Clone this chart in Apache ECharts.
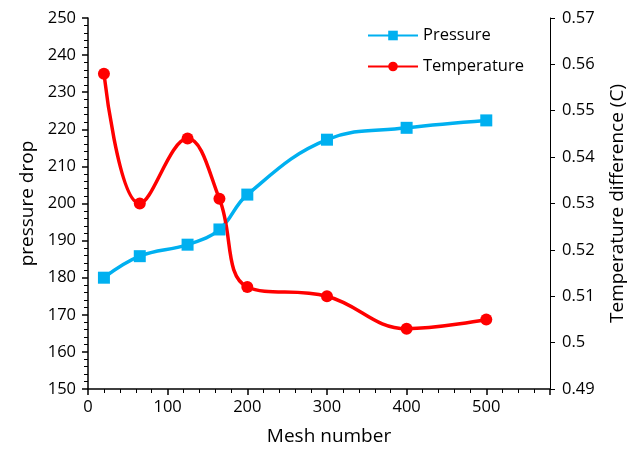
<!DOCTYPE html>
<html>
<head>
<meta charset="utf-8">
<script src="https://cdn.jsdelivr.net/npm/echarts@6/dist/echarts.min.js"></script>
<style>
  html, body { margin: 0; padding: 0; background: #fff; }
  #main { width: 635px; height: 449px; }
</style>
</head>
<body>
<div id="main"></div>
<script>
(function () {
    'use strict';

    // mesh sizes and measured values
    var meshNumber = [20, 65, 125, 165, 200, 300, 400, 500];
    var pressureDrop = [180, 185.8, 188.9, 193, 202.4, 217.2, 220.4, 222.4];
    var tempDiff = [0.558, 0.530, 0.544, 0.531, 0.512, 0.510, 0.503, 0.505];

    var FONT = 'Open Sans';
    var BLUE = '#00b0f0';
    var RED = '#ff0000';

    function pairs(xs, ys) {
        return xs.map(function (x, i) { return [x, ys[i]]; });
    }

    var myChart = echarts.init(document.getElementById('main'));

    var option = {
        animation: false,
        textStyle: { fontFamily: FONT },
        grid: { left: 88, right: 85, top: 18, bottom: 60, outerBoundsMode: 'none' },
        legend: {
            orient: 'vertical',
            left: 362,
            top: 22,
            itemWidth: 50,
            itemHeight: 12,
            itemGap: 14,
            textStyle: { fontFamily: FONT, fontSize: 16.5, color: '#000' },
            data: ['Pressure', 'Temperature']
        },
        xAxis: {
            type: 'value',
            min: 0,
            max: 580,
            interval: 100,
            name: 'Mesh number',
            nameLocation: 'middle',
            nameGap: 38,
            nameTextStyle: { fontSize: 19, color: '#000', padding: [0, 0, 0, 20] },
            axisLine: { lineStyle: { color: '#000', width: 1.5 } },
            axisTick: { length: 6, lineStyle: { color: '#000', width: 1.5 } },
            minorTick: { show: true, splitNumber: 5, length: 4, lineStyle: { color: '#000' } },
            axisLabel: { fontSize: 16.5, color: '#000', margin: 10,
                formatter: function (v) { return v > 500 ? '' : v; } },
            splitLine: { show: false }
        },
        yAxis: [{
            type: 'value',
            min: 150,
            max: 250,
            interval: 10,
            name: 'pressure drop',
            nameLocation: 'middle',
            nameGap: 43,
            nameTextStyle: { fontSize: 19, color: '#000' },
            axisLine: { show: true, lineStyle: { color: '#000', width: 1.5 } },
            axisTick: { show: true, length: 6, lineStyle: { color: '#000', width: 1.5 } },
            minorTick: { show: true, splitNumber: 5, length: 4, lineStyle: { color: '#000' } },
            axisLabel: { fontSize: 16.5, color: '#000', margin: 12 },
            splitLine: { show: false }
        }, {
            type: 'value',
            min: 0.49,
            max: 0.57,
            interval: 0.01,
            name: 'Temperature difference (C)',
            nameLocation: 'middle',
            nameGap: 58,
            nameTextStyle: { fontSize: 19, color: '#000' },
            axisLine: { show: true, lineStyle: { color: '#000', width: 1 } },
            axisTick: { show: true, length: 5, lineStyle: { color: '#000' } },
            axisLabel: { fontSize: 16.5, color: '#000', margin: 12,
                formatter: function (v) { return +v.toFixed(2); } },
            splitLine: { show: false }
        }],
        series: [{
            name: 'Pressure',
            type: 'line',
            yAxisIndex: 0,
            smooth: 0.4,
            symbol: 'rect',
            symbolSize: 12,
            lineStyle: { color: BLUE, width: 3.5 },
            itemStyle: { color: BLUE },
            data: pairs(meshNumber, pressureDrop)
        }, {
            name: 'Temperature',
            type: 'line',
            yAxisIndex: 1,
            smooth: 0.4,
            symbol: 'circle',
            symbolSize: 12,
            lineStyle: { color: RED, width: 3.5 },
            itemStyle: { color: RED },
            data: pairs(meshNumber, tempDiff)
        }]
    };

    myChart.setOption(option);
}());
</script>
</body>
</html>
